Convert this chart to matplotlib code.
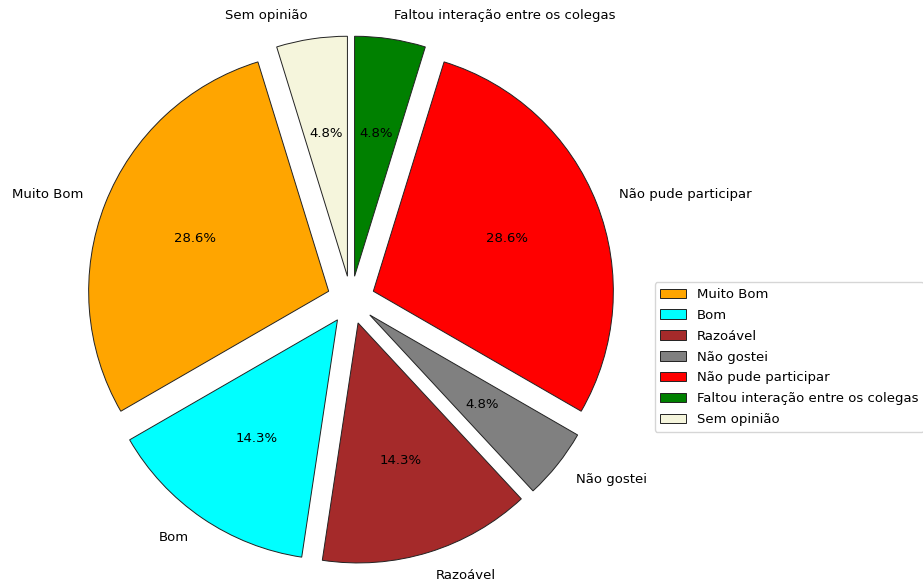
import numpy as np
import matplotlib.pyplot as plt

# respostas da pesquisa
categorias = ['Muito Bom', 'Bom', 'Razoável', 'Não gostei',
              'Não pude participar', 'Faltou interação entre os colegas',
              'Sem opinião']
respostas = [6, 3, 3, 1, 6, 1, 1]
cores = ['orange', 'cyan', 'brown', 'grey', 'red', 'green', 'beige']
explodir = [0.1] * len(respostas)

fig = plt.figure(figsize=(9.23, 5.83), dpi=100)
ax = fig.add_axes([0, 0, 1, 1])

wedges, texts, autotexts = ax.pie(respostas, labels=categorias, colors=cores,
                                  explode=explodir, autopct='%1.1f%%',
                                  startangle=90 + 360 / 21,
                                  wedgeprops={'edgecolor': '#222222', 'linewidth': 0.7},
                                  textprops={'fontsize': 9.5})

# centro da pizza em (351, 300) px, raio 240 px
esc = 240.0
ax.set_xlim(-351 / esc, (923 - 351) / esc)
ax.set_ylim(-(583 - 300) / esc, 300 / esc)
ax.set_aspect('equal')
ax.axis('off')

ax.legend(wedges, categorias, loc='center left', fontsize=9.5,
          labelspacing=0.6,
          bbox_to_anchor=(648 / 923, 1 - 357 / 583),
          bbox_transform=fig.transFigure)

fig.savefig('out.png', dpi=100)
